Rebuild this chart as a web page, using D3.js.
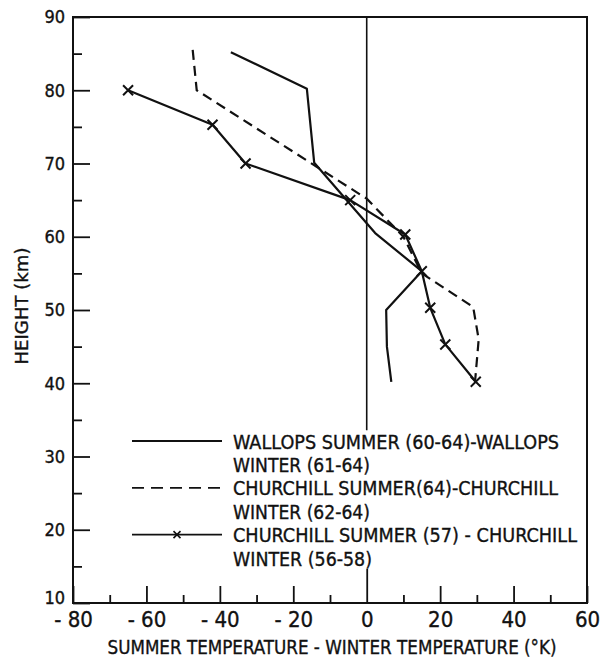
<!DOCTYPE html>
<html>
<head>
<meta charset="utf-8">
<script src="https://cdn.jsdelivr.net/npm/d3@7"></script>
<style>
  html, body { margin: 0; padding: 0; background: #fff; }
  text { stroke: #111; stroke-width: 0.35px; }
</style>
</head>
<body>
<div id="chart"></div>
<script>
// Datos (temperatura verano - invierno, altura en km)
const wallopsTemp = [-37, -16.3, -14.3, 2.3, 15, 5.3, 5.5, 6.7];
const wallopsHeight = [85.2, 80.2, 70.1, 60.5, 55.3, 50, 45, 40.2];

const churchillDashTemp = [-47.4, -46.3, 0, 10, 15, 29, 30.5, 29.5];
const churchillDashHeight = [85.5, 80, 65.2, 60, 55, 50.4, 46, 40.2];

const churchillXTemp = [-65, -42, -33, -4.5, 10.5, 15, 17.3, 21.4, 29.7];
const churchillXHeight = [80, 75.3, 70, 65, 60.3, 55.3, 50.3, 45.3, 40.2];

const xMajorTicks = [-80, -60, -40, -20, 0, 20, 40, 60];
const xMinorTicks = [-70, -50, -30, -10, 10, 30, 50];
const yMajorTicks = [10, 20, 30, 40, 50, 60, 70, 80, 90];
const yMinorTicks = [15, 25, 35, 45, 55, 65, 75, 85];

const legendLabels = [
    ["WALLOPS SUMMER (60-64)-WALLOPS", "WINTER (61-64)"],
    ["CHURCHILL SUMMER(64)-CHURCHILL", "WINTER (62-64)"],
    ["CHURCHILL SUMMER (57) - CHURCHILL", "WINTER (56-58)"]
];

const FONT = '"Liberation Sans Narrow", "DejaVu Sans Condensed", sans-serif';
const INK = "#111";

// 1. Lienzo
const margin = { top: 17, right: 14, bottom: 59, left: 73 };
const W = 601, H = 662;
const width = W - margin.left - margin.right;
const height = H - margin.top - margin.bottom;

const svg = d3.select("#chart")
    .append("svg")
    .attr("width", W)
    .attr("height", H)
    .style("font-family", FONT);

const g = svg.append("g")
    .attr("transform", `translate(${margin.left},${margin.top})`);

// 2. Escalas
const x = d3.scaleLinear().domain([-80, 60]).range([0, width]);
const y = d3.scaleLinear().domain([10, 90]).range([height, 0]);

// 3. Ejes (marcas hacia dentro)
const fmtX = (d) => (d < 0 ? "- " + Math.abs(d) : String(d));

const xAxis = g.append("g")
    .attr("transform", `translate(0,${height})`)
    .call(d3.axisBottom(x).tickValues(xMajorTicks).tickSizeInner(-17).tickSizeOuter(0)
        .tickPadding(8).tickFormat(fmtX));
xAxis.selectAll(".tick line").attr("y2", (d) => (d === 0 ? -34 : -17));

g.append("g")
    .attr("transform", `translate(0,${height})`)
    .call(d3.axisBottom(x).tickValues(xMinorTicks).tickSize(-8).tickFormat(""));

const yAxis = g.append("g")
    .call(d3.axisLeft(y).tickValues(yMajorTicks).tickSizeInner(-17).tickSizeOuter(0)
        .tickPadding(8).tickFormat(d3.format("d")));
yAxis.selectAll(".tick text").filter((d) => d === 10).attr("dy", "0.05em");

g.append("g")
    .call(d3.axisLeft(y).tickValues(yMinorTicks).tickSize(-9).tickFormat(""));

g.selectAll(".domain").remove();
g.selectAll(".tick line").attr("stroke", INK).attr("stroke-width", 1.8);
xAxis.selectAll("text").attr("font-size", 22).attr("fill", INK).attr("font-family", FONT);
yAxis.selectAll("text").attr("font-size", 18).attr("fill", INK).attr("font-family", FONT);

// Marco
g.append("rect")
    .attr("x", 0).attr("y", 0)
    .attr("width", width).attr("height", height)
    .attr("fill", "none")
    .attr("stroke", INK)
    .attr("stroke-width", 2);

// Línea de cero (interrumpida por la leyenda)
g.append("line")
    .attr("x1", x(0)).attr("x2", x(0))
    .attr("y1", y(90)).attr("y2", y(33.6))
    .attr("stroke", INK)
    .attr("stroke-width", 1.6);

// 4. Curvas
const line = d3.line().x((d) => x(d[0])).y((d) => y(d[1]));
const zip = (a, b) => a.map((v, i) => [v, b[i]]);

g.append("path")
    .datum(zip(wallopsTemp, wallopsHeight))
    .attr("d", line)
    .attr("fill", "none")
    .attr("stroke", INK)
    .attr("stroke-width", 2.2)
    .attr("stroke-linejoin", "round");

g.append("path")
    .datum(zip(churchillDashTemp, churchillDashHeight))
    .attr("d", line)
    .attr("fill", "none")
    .attr("stroke", INK)
    .attr("stroke-width", 2.2)
    .attr("stroke-dasharray", "10,6");

const xData = zip(churchillXTemp, churchillXHeight);
g.append("path")
    .datum(xData)
    .attr("d", line)
    .attr("fill", "none")
    .attr("stroke", INK)
    .attr("stroke-width", 2.2)
    .attr("stroke-linejoin", "round");

const cross = (s) => `M${-s},${-s}L${s},${s}M${-s},${s}L${s},${-s}`;
g.append("g")
    .selectAll("path")
    .data(xData)
    .join("path")
    .attr("transform", (d) => `translate(${x(d[0])},${y(d[1])})`)
    .attr("d", cross(5))
    .attr("stroke", INK)
    .attr("stroke-width", 2);

// 5. Leyenda
const legX1 = 59, legX2 = 149, legText = 160;
const rowH = 23.4;
const legTop = 424; // centro de la primera fila (coordenadas internas)
const firstWidths = [326, 325, 344];
const secondWidths = [137, 137, 139];

legendLabels.forEach((lab, i) => {
    const cy = legTop + i * 2 * rowH;
    const ln = g.append("line")
        .attr("x1", legX1).attr("x2", legX2)
        .attr("y1", cy).attr("y2", cy)
        .attr("stroke", INK)
        .attr("stroke-width", 1.8);
    if (i === 1) ln.attr("stroke-dasharray", "12,7");
    if (i === 2) {
        g.append("path")
            .attr("transform", `translate(${legX1 + 45},${cy})`)
            .attr("d", cross(3.5))
            .attr("stroke", INK)
            .attr("stroke-width", 1.6);
    }
    g.append("text")
        .attr("x", legText).attr("y", cy + 7.5)
        .attr("font-size", 20)
        .attr("fill", INK)
        .attr("textLength", firstWidths[i])
        .attr("lengthAdjust", "spacingAndGlyphs")
        .text(lab[0]);
    g.append("text")
        .attr("x", legText).attr("y", cy + rowH + 7.5)
        .attr("font-size", 20)
        .attr("fill", INK)
        .attr("textLength", secondWidths[i])
        .attr("lengthAdjust", "spacingAndGlyphs")
        .text(lab[1]);
});

// 6. Títulos de ejes
svg.append("text")
    .attr("x", 332)
    .attr("y", 654)
    .attr("text-anchor", "middle")
    .attr("font-size", 20)
    .attr("fill", INK)
    .attr("textLength", 449)
    .attr("lengthAdjust", "spacingAndGlyphs")
    .text("SUMMER TEMPERATURE - WINTER TEMPERATURE (°K)");

svg.append("text")
    .attr("transform", "translate(28,306) rotate(-90)")
    .attr("text-anchor", "middle")
    .attr("font-size", 18)
    .attr("fill", INK)
    .attr("textLength", 117)
    .attr("lengthAdjust", "spacingAndGlyphs")
    .text("HEIGHT (km)");
</script>
</body>
</html>
